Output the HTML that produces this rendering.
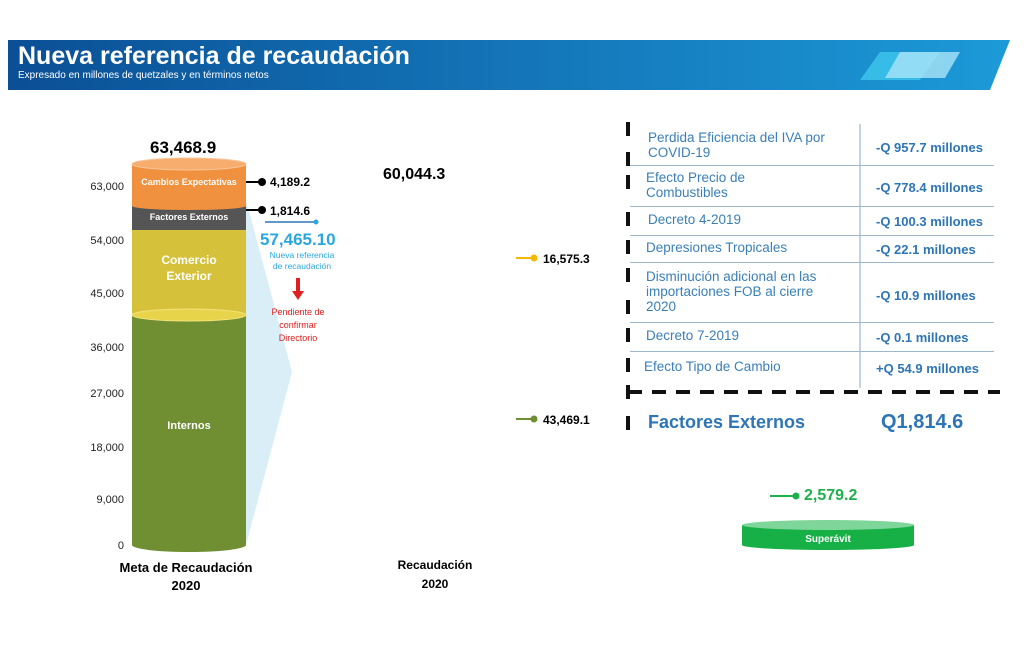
<!DOCTYPE html>
<html><head><meta charset="utf-8"><style>
body{margin:0;width:1024px;height:654px;background:#fff;position:relative;overflow:hidden;font-family:"Liberation Sans",sans-serif}
.a{position:absolute;white-space:nowrap}
.yl{position:absolute;right:900px;font-size:11px;color:#222}
.t{position:absolute;left:646px;color:#3a7fb8;font-size:13.5px;line-height:15px}
.v{position:absolute;left:876px;color:#2e75b6;font-size:13px;font-weight:bold}
.hl{position:absolute;left:630px;width:364px;height:1px;background:#9db7cf}
.tk{position:absolute;left:626px;width:4px;height:14px;background:#111}
</style></head><body>
<svg class="a" style="left:0;top:0" width="1024" height="654">
<defs><linearGradient id="g" x1="0" x2="1"><stop offset="0" stop-color="#0b4f96"/><stop offset="1" stop-color="#1c9ad8"/></linearGradient></defs>
<path d="M8 40 H1010 L990 90 H8Z" fill="url(#g)"/>
<path d="M880 52 H940 L920 80 H860Z" fill="#3ec7ee" opacity=".8"/>
<path d="M900 52 H960 L945 78 H885Z" fill="#a9e3f7" opacity=".8"/>
<polygon points="246,200 292,372 246,545" fill="#d9eef7"/>
<rect x="132" y="315" width="114" height="230" fill="#6f8f32"/>
<ellipse cx="189" cy="545" rx="57" ry="7" fill="#6f8f32"/>
<rect x="132" y="230" width="114" height="85" fill="#d5c23a"/>
<ellipse cx="189" cy="315" rx="57" ry="6" fill="#e8d44a" stroke="#f3e27a"/>
<rect x="132" y="206" width="114" height="24" fill="#555"/>
<rect x="132" y="164" width="114" height="42" fill="#f0913f"/>
<ellipse cx="189" cy="206" rx="57" ry="4" fill="#f0913f"/>
<ellipse cx="189" cy="164" rx="57" ry="6" fill="#f6ad6d" stroke="#f9c598"/>
<line x1="246" y1="182" x2="262" y2="182" stroke="#000" stroke-width="2"/><circle cx="262" cy="182" r="4"/>
<line x1="246" y1="210" x2="262" y2="210" stroke="#000" stroke-width="2"/><circle cx="262" cy="210" r="4"/>
<line x1="265" y1="222" x2="316" y2="222" stroke="#2e75b6" stroke-width="1.5"/><circle cx="316" cy="222" r="2.5" fill="#2aa7e0"/>
<rect x="296" y="278" width="4" height="14" fill="#e02020"/><polygon points="292,291 304,291 298,300" fill="#e02020"/>
<line x1="516" y1="258" x2="534" y2="258" stroke="#f5b800" stroke-width="2"/><circle cx="534" cy="258" r="3.5" fill="#f5b800"/>
<line x1="516" y1="419" x2="534" y2="419" stroke="#6f8f32" stroke-width="2"/><circle cx="534" cy="419" r="3.5" fill="#6f8f32"/>
<line x1="770" y1="496" x2="796" y2="496" stroke="#1db04b" stroke-width="2"/><circle cx="796" cy="496" r="3.5" fill="#1db04b"/>
<rect x="742" y="525" width="172" height="20" fill="#17b046"/>
<ellipse cx="828" cy="545" rx="86" ry="5" fill="#17b046"/>
<ellipse cx="828" cy="525" rx="86" ry="5" fill="#7fd69a"/>
<line x1="860" y1="124" x2="860" y2="388" stroke="#8aa7c4"/>
<line x1="628" y1="392" x2="1000" y2="392" stroke="#111" stroke-width="4" stroke-dasharray="14,10"/>
</svg>
<div class="a" style="left:18px;top:42px;color:#fff;font-size:25px;font-weight:bold">Nueva referencia de recaudación</div>
<div class="a" style="left:18px;top:70px;color:#fff;font-size:10px">Expresado en millones de quetzales y en términos netos</div>
<div class="yl" style="top:181px">63,000</div><div class="yl" style="top:235px">54,000</div><div class="yl" style="top:288px">45,000</div><div class="yl" style="top:342px">36,000</div><div class="yl" style="top:388px">27,000</div><div class="yl" style="top:442px">18,000</div><div class="yl" style="top:494px">9,000</div><div class="yl" style="top:540px">0</div>
<div class="a" style="left:150px;top:138px;font-size:17px;font-weight:bold">63,468.9</div>
<div class="a" style="left:132px;width:114px;text-align:center;top:177px;font-size:9px;color:#fff;font-weight:bold">Cambios Expectativas</div>
<div class="a" style="left:132px;width:114px;text-align:center;top:212px;font-size:9px;color:#fff;font-weight:bold">Factores Externos</div>
<div class="a" style="left:132px;width:114px;text-align:center;top:252px;font-size:12px;color:#fff;font-weight:bold;line-height:16px">Comercio<br>Exterior</div>
<div class="a" style="left:132px;width:114px;text-align:center;top:420px;font-size:11px;color:#fff;font-weight:bold">Internos</div>
<div class="a" style="left:270px;top:175px;font-size:12px;font-weight:bold">4,189.2</div>
<div class="a" style="left:270px;top:204px;font-size:12px;font-weight:bold">1,814.6</div>
<div class="a" style="left:260px;top:230px;font-size:17px;font-weight:bold;color:#2aa7e0">57,465.10</div>
<div class="a" style="left:262px;top:250px;width:80px;text-align:center;font-size:8.5px;color:#2aa7e0;line-height:11px">Nueva referencia<br>de recaudación</div>
<div class="a" style="left:262px;top:306px;width:72px;text-align:center;font-size:9px;color:#e02020;line-height:13px">Pendiente de<br>confirmar<br>Directorio</div>
<div class="a" style="left:383px;top:166px;font-size:16px;font-weight:bold">60,044.3</div>
<div class="a" style="left:543px;top:252px;font-size:12px;font-weight:bold">16,575.3</div>
<div class="a" style="left:543px;top:413px;font-size:12px;font-weight:bold">43,469.1</div>
<div class="a" style="left:106px;top:559px;width:160px;text-align:center;font-size:13px;font-weight:bold;line-height:18px">Meta de Recaudación<br>2020</div>
<div class="a" style="left:380px;top:556px;width:110px;text-align:center;font-size:12px;font-weight:bold;line-height:19px">Recaudación<br>2020</div>
<div class="tk" style="top:122px"></div><div class="tk" style="top:152px"></div><div class="tk" style="top:175px"></div><div class="tk" style="top:212px"></div><div class="tk" style="top:240px"></div><div class="tk" style="top:268px"></div><div class="tk" style="top:300px"></div><div class="tk" style="top:328px"></div><div class="tk" style="top:358px"></div><div class="tk" style="top:385px"></div><div class="tk" style="top:416px"></div>
<div class="hl" style="top:165px"></div><div class="hl" style="top:206px"></div><div class="hl" style="top:235px"></div><div class="hl" style="top:262px"></div><div class="hl" style="top:322px"></div><div class="hl" style="top:351px"></div>
<div class="t" style="top:130px;left:648px">Perdida Eficiencia del IVA por<br>COVID-19</div>
<div class="t" style="top:170px">Efecto Precio de<br>Combustibles</div>
<div class="t" style="top:212px;left:648px">Decreto 4-2019</div>
<div class="t" style="top:240px">Depresiones Tropicales</div>
<div class="t" style="top:269px">Disminución adicional en las<br>importaciones FOB al cierre<br>2020</div>
<div class="t" style="top:328px">Decreto 7-2019</div>
<div class="t" style="top:359px;left:644px">Efecto Tipo de Cambio</div>
<div class="v" style="top:140px">-Q 957.7 millones</div>
<div class="v" style="top:180px">-Q 778.4 millones</div>
<div class="v" style="top:214px">-Q 100.3 millones</div>
<div class="v" style="top:242px">-Q 22.1 millones</div>
<div class="v" style="top:288px">-Q 10.9 millones</div>
<div class="v" style="top:330px">-Q 0.1 millones</div>
<div class="v" style="top:361px">+Q 54.9 millones</div>
<div class="a" style="left:648px;top:412px;font-size:18px;font-weight:bold;color:#2e75b6">Factores Externos</div>
<div class="a" style="left:881px;top:411px;font-size:20px;font-weight:bold;color:#2e75b6">Q1,814.6</div>
<div class="a" style="left:804px;top:487px;font-size:16px;font-weight:bold;color:#1db04b">2,579.2</div>
<div class="a" style="left:742px;width:172px;text-align:center;top:534px;font-size:10px;font-weight:bold;color:#fff">Superávit</div>
</body></html>
